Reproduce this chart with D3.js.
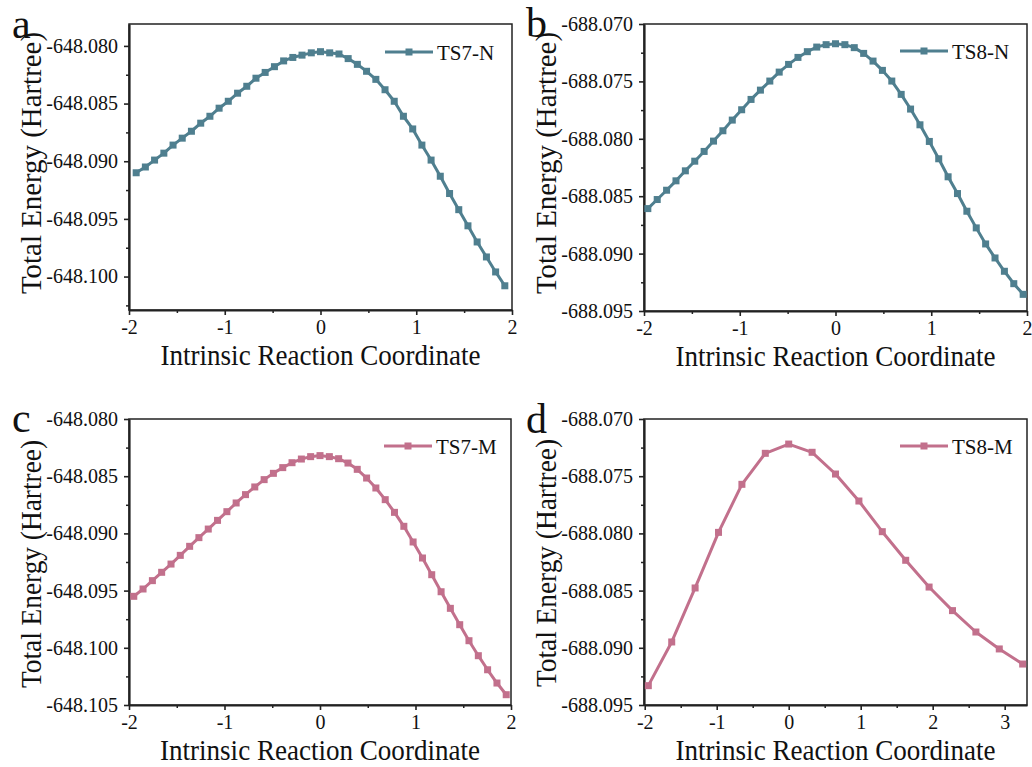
<!DOCTYPE html>
<html>
<head>
<meta charset="utf-8">
<script src="https://cdn.jsdelivr.net/npm/d3@7"></script>
<style>
  html, body { margin: 0; padding: 0; background: #fff; }
  svg { display: block; }
  text { font-family: "Liberation Serif", "Times New Roman", serif; fill: #111; }
</style>
</head>
<body>
<svg id="chart" width="1032" height="767"></svg>
<script>
// ---------------- DATA ----------------
const seriesNames = ["TS7-N", "TS8-N", "TS7-M", "TS8-M"];
const panelLetters = ["a", "b", "c", "d"];
const xTitle = "Intrinsic Reaction Coordinate";
const yTitle = "Total Energy (Hartree)";

const ts7nX = [-1.925,-1.829,-1.733,-1.636,-1.540,-1.444,-1.348,-1.251,-1.155,-1.059,-0.963,-0.866,-0.770,-0.674,-0.578,-0.481,-0.385,-0.289,-0.193,-0.096,0,0.096,0.193,0.289,0.385,0.481,0.578,0.674,0.770,0.866,0.963,1.059,1.155,1.251,1.348,1.444,1.540,1.636,1.733,1.829,1.925];
const ts7nY = [-648.0910,-648.0905,-648.0899,-648.0893,-648.0886,-648.0880,-648.0874,-648.0867,-648.0861,-648.0854,-648.0848,-648.0841,-648.0835,-648.0828,-648.0823,-648.0818,-648.0813,-648.0810,-648.0808,-648.0806,-648.0805,-648.0806,-648.0807,-648.0811,-648.0816,-648.0822,-648.0829,-648.0838,-648.0848,-648.0861,-648.0872,-648.0886,-648.0899,-648.0913,-648.0928,-648.0942,-648.0956,-648.0970,-648.0983,-648.0996,-648.1008];

const ts8nX = [-1.960,-1.862,-1.764,-1.666,-1.568,-1.470,-1.372,-1.274,-1.176,-1.078,-0.980,-0.882,-0.784,-0.686,-0.588,-0.490,-0.392,-0.294,-0.196,-0.098,0,0.098,0.196,0.294,0.392,0.490,0.588,0.686,0.784,0.882,0.980,1.078,1.176,1.274,1.372,1.470,1.568,1.666,1.764,1.862,1.960];
const ts8nY = [-688.08608,-688.08529,-688.08448,-688.08366,-688.08279,-688.08195,-688.08110,-688.08020,-688.07930,-688.07837,-688.07747,-688.07657,-688.07576,-688.07497,-688.07419,-688.07352,-688.07291,-688.07241,-688.07201,-688.07180,-688.07172,-688.07180,-688.07206,-688.07256,-688.07323,-688.07404,-688.07497,-688.07613,-688.07741,-688.07878,-688.08023,-688.08174,-688.08331,-688.08477,-688.08631,-688.08776,-688.08916,-688.09038,-688.09154,-688.09262,-688.09355];

const ts7mX = [-1.950,-1.853,-1.755,-1.658,-1.560,-1.463,-1.365,-1.268,-1.170,-1.073,-0.975,-0.878,-0.780,-0.683,-0.585,-0.488,-0.390,-0.293,-0.195,-0.098,0,0.098,0.195,0.293,0.390,0.488,0.585,0.683,0.780,0.878,0.975,1.073,1.170,1.268,1.365,1.463,1.560,1.658,1.755,1.853,1.950];
const ts7mY = [-648.09550,-648.09486,-648.09413,-648.09340,-648.09268,-648.09192,-648.09113,-648.09037,-648.08962,-648.08886,-648.08810,-648.08734,-648.08661,-648.08594,-648.08530,-648.08475,-648.08425,-648.08382,-648.08350,-648.08329,-648.08320,-648.08329,-648.08347,-648.08385,-648.08440,-648.08516,-648.08603,-648.08705,-648.08816,-648.08938,-648.09075,-648.09215,-648.09361,-648.09510,-648.09655,-648.09798,-648.09938,-648.10069,-648.10192,-648.10308,-648.10410];

const ts8mX = [-1.950,-1.625,-1.300,-0.975,-0.650,-0.325,0,0.325,0.650,0.975,1.300,1.625,1.950,2.275,2.600,2.925,3.250];
const ts8mY = [-688.09331,-688.08949,-688.08477,-688.07991,-688.07571,-688.07300,-688.07219,-688.07291,-688.07481,-688.07717,-688.07985,-688.08235,-688.08469,-688.08675,-688.08862,-688.09010,-688.09142];

const xTicksA = [-2,-1,0,1,2];
const xTicksD = [-2,-1,0,1,2,3];
const xMinorA = [-1.5,-0.5,0.5,1.5];
const xMinorD = [-1.5,-0.5,0.5,1.5,2.5];
const yTicks7N = [-648.100,-648.095,-648.090,-648.085,-648.080];
const yMinor7N = [-648.1025,-648.0975,-648.0925,-648.0875,-648.0825];
const yTicks7M = [-648.105,-648.100,-648.095,-648.090,-648.085,-648.080];
const yMinor7M = [-648.1025,-648.0975,-648.0925,-648.0875,-648.0825];
const yTicks8 = [-688.095,-688.090,-688.085,-688.080,-688.075,-688.070];
const yMinor8 = [-688.0925,-688.0875,-688.0825,-688.0775,-688.0725];

const colorN = "#4f7f8f";
const colorM = "#c2708c";

// ---------------- LAYOUT ----------------
const panels = [
  { name: seriesNames[0], letter: panelLetters[0], xs: ts7nX, ys: ts7nY, color: colorN,
    box: {l:129, r:512, t:24, b:310}, xDom:[-2,2], yDom:[-648.1029,-648.0781],
    xt: xTicksA, xm: xMinorA, yt: yTicks7N, ym: yMinor7N,
    letterPos:[12,38], legY:52, ytLen:262, ytCy:163 },
  { name: seriesNames[1], letter: panelLetters[1], xs: ts8nX, ys: ts8nY, color: colorN,
    box: {l:644, r:1027, t:24, b:311}, xDom:[-2,2], yDom:[-688.095,-688.070],
    xt: xTicksA, xm: xMinorA, yt: yTicks8, ym: yMinor8,
    letterPos:[526,37], legY:51, ytLen:262, ytCy:163 },
  { name: seriesNames[2], letter: panelLetters[2], xs: ts7mX, ys: ts7mY, color: colorM,
    box: {l:129, r:511, t:419, b:705}, xDom:[-2,2], yDom:[-648.105,-648.080],
    xt: xTicksA, xm: xMinorA, yt: yTicks7M, ym: yMinor7M,
    letterPos:[12,432], legY:446, ytLen:248, ytCy:564 },
  { name: seriesNames[3], letter: panelLetters[3], xs: ts8mX, ys: ts8mY, color: colorM,
    box: {l:644, r:1027, t:419, b:705}, xDom:[-2.01,3.31], yDom:[-688.095,-688.070],
    xt: xTicksD, xm: xMinorD, yt: yTicks8, ym: yMinor8,
    letterPos:[526,433], legY:446, ytLen:248, ytCy:563 }
];

const svg = d3.select("#chart");

panels.forEach(p => {
  const g = svg.append("g");
  const x = d3.scaleLinear().domain(p.xDom).range([p.box.l, p.box.r]);
  const y = d3.scaleLinear().domain(p.yDom).range([p.box.b, p.box.t]);

  // frame (top/right)
  g.append("rect")
    .attr("x", p.box.l).attr("y", p.box.t)
    .attr("width", p.box.r - p.box.l).attr("height", p.box.b - p.box.t)
    .attr("fill", "none").attr("stroke", "#222").attr("stroke-width", 1.5);

  // minor ticks
  const xMinorAxis = d3.axisBottom(x).tickValues(p.xm).tickSize(3).tickFormat("").tickSizeOuter(0);
  const yMinorAxis = d3.axisLeft(y).tickValues(p.ym).tickSize(3).tickFormat("").tickSizeOuter(0);
  const gxm = g.append("g").attr("transform", `translate(0,${p.box.b})`).call(xMinorAxis);
  const gym = g.append("g").attr("transform", `translate(${p.box.l},0)`).call(yMinorAxis);
  [gxm, gym].forEach(a => { a.select(".domain").remove(); a.selectAll("line").attr("stroke", "#222").attr("stroke-width", 1.5); });

  // major axes
  const xAxis = d3.axisBottom(x).tickValues(p.xt).tickSize(5).tickPadding(5).tickSizeOuter(0).tickFormat(d => String(d));
  const yAxis = d3.axisLeft(y).tickValues(p.yt).tickSize(5).tickPadding(6).tickSizeOuter(0).tickFormat(d => d.toFixed(3));
  const gx = g.append("g").attr("transform", `translate(0,${p.box.b})`).call(xAxis);
  const gy = g.append("g").attr("transform", `translate(${p.box.l},0)`).call(yAxis);
  [gx, gy].forEach(a => {
    a.select(".domain").attr("stroke", "#222").attr("stroke-width", 2.2);
    a.selectAll(".tick line").attr("stroke", "#222").attr("stroke-width", 1.6);
    a.selectAll(".tick text").attr("font-family", "Liberation Serif, Times New Roman, serif").attr("font-size", 20).attr("fill", "#111");
  });

  // line + markers
  const pts = p.xs.map((v, i) => [v, p.ys[i]]);
  const line = d3.line().x(d => x(d[0])).y(d => y(d[1]));
  g.append("path").datum(pts).attr("d", line)
    .attr("fill", "none").attr("stroke", p.color).attr("stroke-width", 3).attr("stroke-linejoin", "round");
  const ms = 7;
  g.selectAll(".mk").data(pts).enter().append("rect")
    .attr("x", d => x(d[0]) - ms/2).attr("y", d => y(d[1]) - ms/2)
    .attr("width", ms).attr("height", ms).attr("fill", p.color);

  // legend
  const lx0 = p.box.r - 127, lx1 = p.box.r - 79;
  g.append("line").attr("x1", lx0).attr("x2", lx1).attr("y1", p.legY).attr("y2", p.legY)
    .attr("stroke", p.color).attr("stroke-width", 3);
  g.append("rect").attr("x", (lx0+lx1)/2 - ms/2).attr("y", p.legY - ms/2).attr("width", ms).attr("height", ms).attr("fill", p.color);
  g.append("text").attr("x", lx1 + 4).attr("y", p.legY + 7.5).attr("font-size", 21).text(p.name);

  // axis titles
  g.append("text").attr("x", (p.box.l + p.box.r)/2).attr("y", p.box.b + 55)
    .attr("text-anchor", "middle").attr("font-size", 29)
    .attr("textLength", 320).attr("lengthAdjust", "spacingAndGlyphs").text(xTitle);
  g.append("text").attr("transform", `translate(${p.box.l - 88},${p.ytCy}) rotate(-90)`)
    .attr("text-anchor", "middle").attr("font-size", 30)
    .attr("textLength", p.ytLen).attr("lengthAdjust", "spacingAndGlyphs").text(yTitle);

  // panel letter
  g.append("text").attr("x", p.letterPos[0]).attr("y", p.letterPos[1]).attr("font-size", 42).text(p.letter);
});
</script>
</body>
</html>
